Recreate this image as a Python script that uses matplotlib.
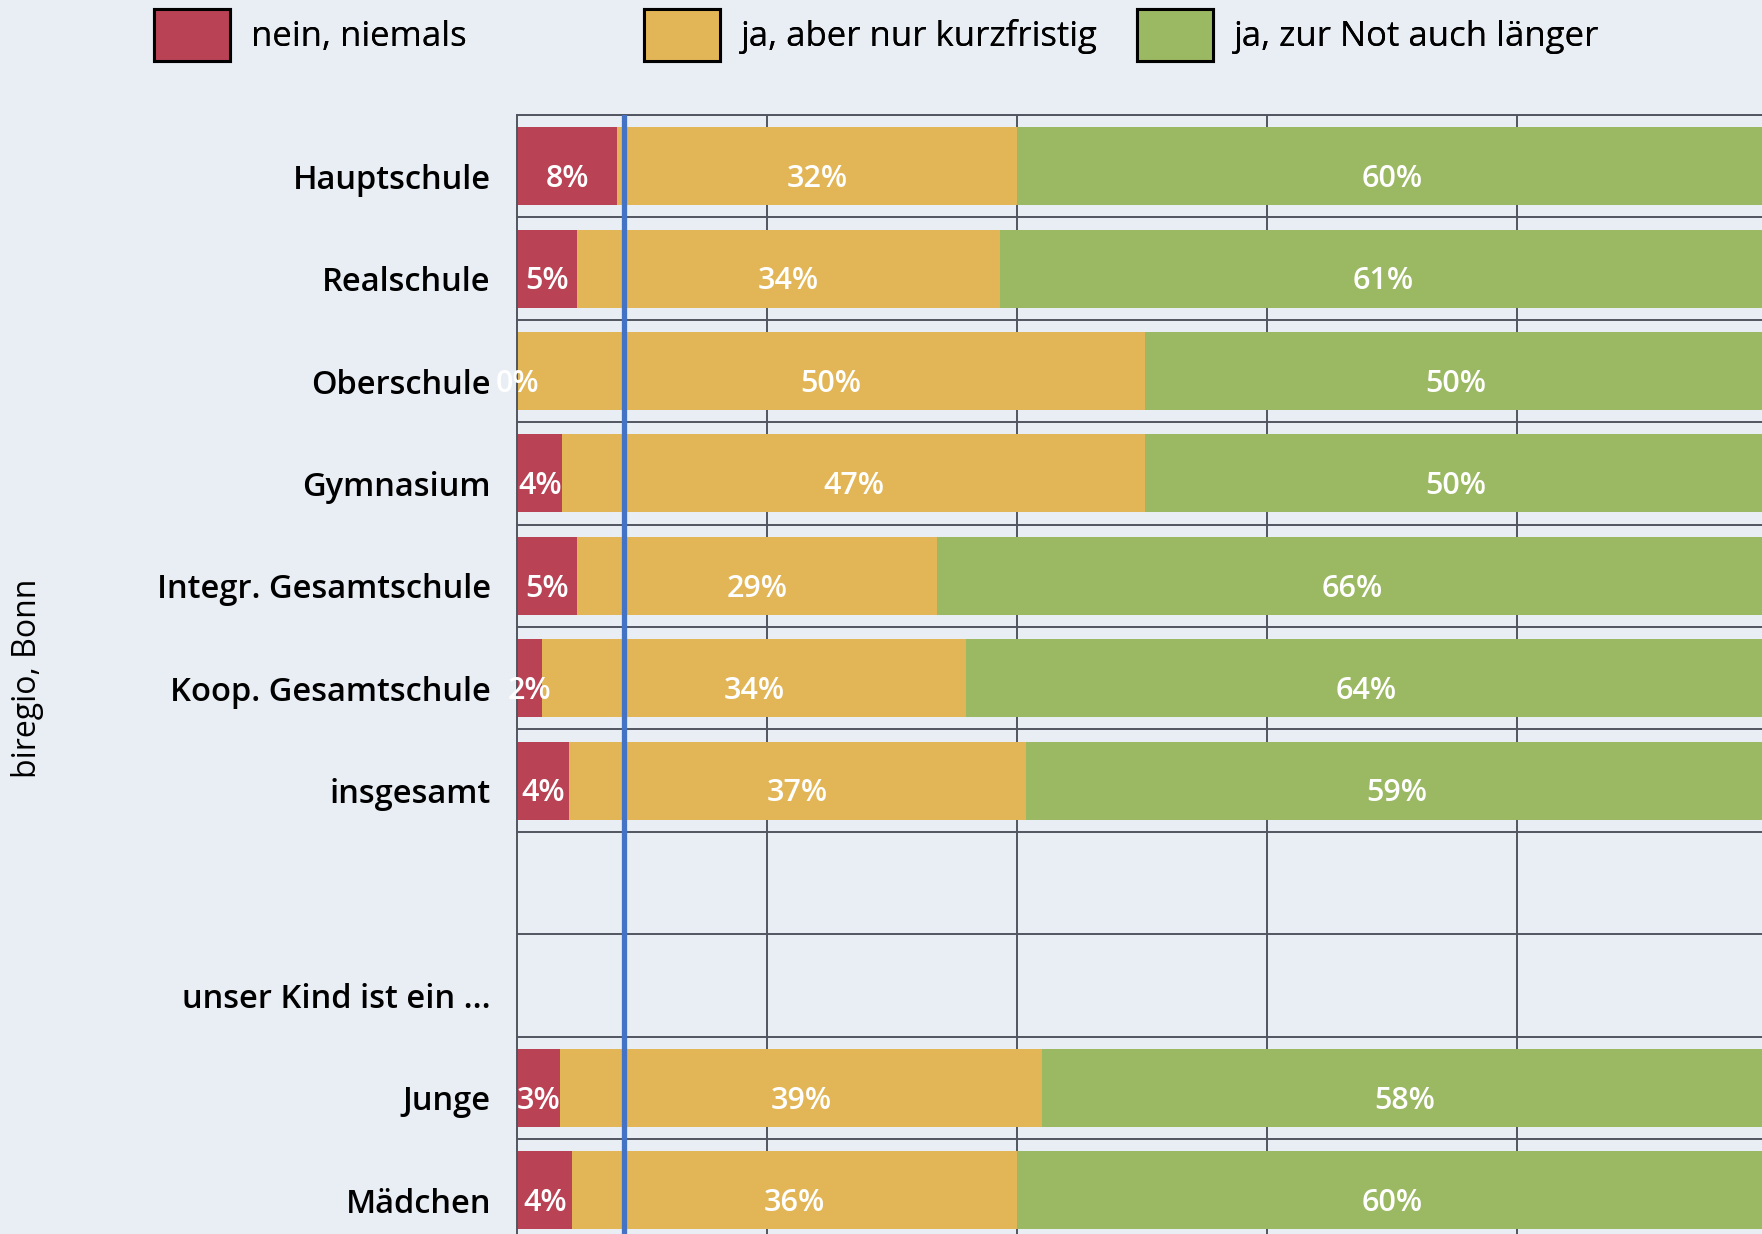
import matplotlib.pyplot as plt
from matplotlib.patches import Patch
from matplotlib.transforms import ScaledTranslation
import numpy as np

plt.rcParams['font.family'] = ['Open Sans', 'DejaVu Sans']

# rows top to bottom; "" = empty row, "unser Kind ist ein ..." = header row without bar
categories = ["Hauptschule", "Realschule", "Oberschule", "Gymnasium",
              "Integr. Gesamtschule", "Koop. Gesamtschule", "insgesamt",
              "", "unser Kind ist ein ...", "Junge", "Mädchen"]
has_bar = [True, True, True, True, True, True, True, False, False, True, True]

nein = [8.0, 4.8, 0.0, 3.6, 4.8, 2.0, 4.1, 0, 0, 3.4, 4.4]
kurz = [32.0, 33.8, 50.2, 46.6, 28.8, 33.9, 36.6, 0, 0, 38.6, 35.6]
laenger = [60.0, 61.4, 49.8, 49.8, 66.4, 64.1, 59.3, 0, 0, 58.0, 60.0]

series_names = ["nein, niemals", "ja, aber nur kurzfristig", "ja, zur Not auch länger"]
colors = ["#B94255", "#E2B657", "#9BB862"]
bg = "#E9EDF4"
ref_line = 8.5

W, H = 1762, 1234
fig = plt.figure(figsize=(W / 100, H / 100), dpi=100, facecolor=bg)
x0_px, x100_px = 517.3, 1767
top_px, bot_px = 115, 1241.4
ax = fig.add_axes([x0_px / W, 1 - bot_px / H, (x100_px - x0_px) / W, (bot_px - top_px) / H])
ax.set_facecolor(bg)

n = len(categories)
y = np.arange(n)
idx = np.array(has_bar)
left = np.zeros(n)
for vals, col in zip([nein, kurz, laenger], colors):
    vals = np.array(vals, dtype=float)
    ax.barh(y[idx], vals[idx], left=left[idx], height=0.76, color=col, zorder=2)
    for i in y[idx]:
        ax.text(left[i] + vals[i] / 2, i + 0.125, f"{vals[i]:.0f}%", ha='center', va='center',
                color='white', fontsize=22, fontweight='semibold', zorder=4, clip_on=False)
    left = left + vals

ax.axvline(ref_line, color='#4472C4', lw=3.8, zorder=5)

ax.set_xlim(0, 100)
ax.set_ylim(n - 0.5, -0.5)
ax.set_xticks([20, 40, 60, 80])
ax.set_xticklabels([])
ax.set_yticks(y)
ax.set_yticklabels(categories, fontsize=23.5, fontweight='semibold')
ax.set_yticks(np.arange(n + 1) - 0.5, minor=True)
ax.tick_params(axis='both', which='both', length=0)
ax.tick_params(axis='y', pad=19)
shift = ScaledTranslation(0, -0.10, fig.dpi_scale_trans)
for lab in ax.get_yticklabels():
    lab.set_transform(lab.get_transform() + shift)
ax.grid(axis='x', which='major', color='#505560', lw=1.4, zorder=1)
ax.grid(axis='y', which='minor', color='#505560', lw=1.4, zorder=1)
ax.set_axisbelow(True)
for s in ax.spines.values():
    s.set_color('#505560')
    s.set_linewidth(1.4)

fig.text(28 / W, 1 - 678 / H, "biregio, Bonn", rotation=90, ha='center', va='center',
         fontsize=23)

# legend entries sit in equally wide columns
legend_x = [154, 644, 1137]
for name, col, lx in zip(series_names, colors, legend_x):
    leg = fig.legend([Patch(facecolor=col, edgecolor='black', lw=2.2)], [name],
                     loc='center left', bbox_to_anchor=(lx / W, 1 - 35 / H),
                     frameon=False, fontsize=25, handlelength=2.2, handleheight=1.97,
                     handletextpad=0.6, borderpad=0, borderaxespad=0)
    fig.add_artist(leg)

fig.savefig("out.png", dpi=100, facecolor=bg)
